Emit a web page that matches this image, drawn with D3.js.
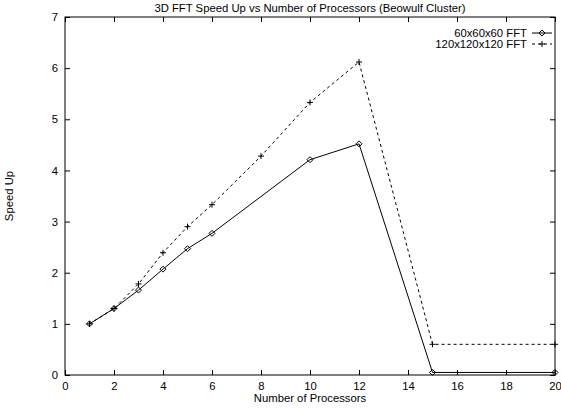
<!DOCTYPE html>
<html>
<head>
<meta charset="utf-8">
<script src="https://cdn.jsdelivr.net/npm/d3@7"></script>
<style>
  body { margin: 0; background: #fff; }
  text { font-family: "Liberation Sans", Arial, sans-serif; fill: #000; }
</style>
</head>
<body>
<div id="chart"></div>
<script>
// valeurs
const procs60 = [1, 2, 3, 4, 5, 6, 10, 12, 15, 20];
const speed60 = [1.0, 1.3, 1.66, 2.07, 2.47, 2.77, 4.21, 4.52, 0.05, 0.05];
const procs120 = [1, 2, 3, 4, 5, 6, 8, 10, 12, 15, 20];
const speed120 = [1.0, 1.3, 1.78, 2.39, 2.9, 3.33, 4.28, 5.33, 6.12, 0.6, 0.6];
const xTicks = [0, 2, 4, 6, 8, 10, 12, 14, 16, 18, 20];
const yTicks = [0, 1, 2, 3, 4, 5, 6, 7];
const seriesNames = ["60x60x60 FFT", "120x120x120 FFT"];

const W = 561, H = 410;
const margin = { top: 17, right: 6, bottom: 35, left: 65 },
      width = W - margin.left - margin.right,
      height = H - margin.top - margin.bottom;
const fontSize = "11.3px";

const svg = d3.select("#chart").append("svg")
    .attr("width", W)
    .attr("height", H);

const g = svg.append("g")
    .attr("transform", `translate(${margin.left},${margin.top})`);

const x = d3.scaleLinear().domain([0, 20]).range([0, width]);
const y = d3.scaleLinear().domain([0, 7]).range([height, 0]);

// axes avec ticks vers l'intérieur (style gnuplot)
const tickLen = 5;
g.append("g")
    .attr("transform", `translate(0,${height})`)
    .call(d3.axisBottom(x).tickValues(xTicks).tickSize(-tickLen).tickPadding(7).tickFormat(d3.format("d")))
    .call(a => a.select(".domain").remove());
g.append("g")
    .call(d3.axisTop(x).tickValues(xTicks).tickSize(-tickLen).tickFormat(""))
    .call(a => a.select(".domain").remove());
g.append("g")
    .call(d3.axisLeft(y).tickValues(yTicks).tickSize(-tickLen).tickPadding(7).tickFormat(d3.format("d")))
    .call(a => a.select(".domain").remove());
g.append("g")
    .attr("transform", `translate(${width},0)`)
    .call(d3.axisRight(y).tickValues(yTicks).tickSize(-tickLen).tickFormat(""))
    .call(a => a.select(".domain").remove());

g.selectAll(".tick text").style("font-size", fontSize).style("font-family", "Liberation Sans, Arial, sans-serif");
g.selectAll(".tick line").attr("stroke", "#000");

// cadre
g.append("rect")
    .attr("width", width)
    .attr("height", height)
    .attr("fill", "none")
    .attr("stroke", "#000")
    .attr("stroke-width", 1);

// lignes
const data60 = procs60.map((p, i) => ({ p: p, s: speed60[i] }));
const data120 = procs120.map((p, i) => ({ p: p, s: speed120[i] }));

const line = d3.line().x(d => x(d.p)).y(d => y(d.s));

g.append("path")
    .datum(data120)
    .attr("fill", "none")
    .attr("stroke", "#000")
    .attr("stroke-width", 1)
    .attr("stroke-dasharray", "3,3")
    .attr("d", line);

g.append("path")
    .datum(data60)
    .attr("fill", "none")
    .attr("stroke", "#000")
    .attr("stroke-width", 1)
    .attr("d", line);

// marqueurs
function diamond(sel) {
    sel.append("path")
        .attr("d", "M0,-3L3,0L0,3L-3,0Z")
        .attr("fill", "none")
        .attr("stroke", "#000")
        .attr("stroke-width", 1);
}
function plus(sel) {
    sel.append("path")
        .attr("d", "M-3,0H3M0,-3V3")
        .attr("stroke", "#000")
        .attr("stroke-width", 1);
}

g.selectAll(".m120").data(data120).enter().append("g")
    .attr("transform", d => `translate(${x(d.p)},${y(d.s)})`)
    .call(plus);
g.selectAll(".m60").data(data60).enter().append("g")
    .attr("transform", d => `translate(${x(d.p)},${y(d.s)})`)
    .call(diamond);

// légende
const legendX = width - 23;
[0, 1].forEach(i => {
    const ly = 16 + i * 11;
    g.append("text")
        .attr("x", legendX - 5)
        .attr("y", ly)
        .attr("dy", "0.35em")
        .attr("text-anchor", "end")
        .style("font-size", fontSize)
        .text(seriesNames[i]);
    g.append("line")
        .attr("x1", legendX).attr("x2", legendX + 20)
        .attr("y1", ly).attr("y2", ly)
        .attr("stroke", "#000")
        .attr("stroke-dasharray", i === 1 ? "3,3" : null);
    const mk = g.append("g").attr("transform", `translate(${legendX + 10},${ly})`);
    if (i === 0) diamond(mk); else plus(mk);
});

// titres
svg.append("text")
    .attr("x", margin.left + width / 2)
    .attr("y", 12)
    .attr("text-anchor", "middle")
    .style("font-size", fontSize)
    .text("3D FFT Speed Up vs Number of Processors (Beowulf Cluster)");

svg.append("text")
    .attr("x", margin.left + width / 2)
    .attr("y", 402)
    .attr("text-anchor", "middle")
    .style("font-size", fontSize)
    .text("Number of Processors");

svg.append("text")
    .attr("transform", `translate(13,${margin.top + height / 2}) rotate(-90)`)
    .attr("text-anchor", "middle")
    .style("font-size", fontSize)
    .text("Speed Up");
</script>
</body>
</html>
